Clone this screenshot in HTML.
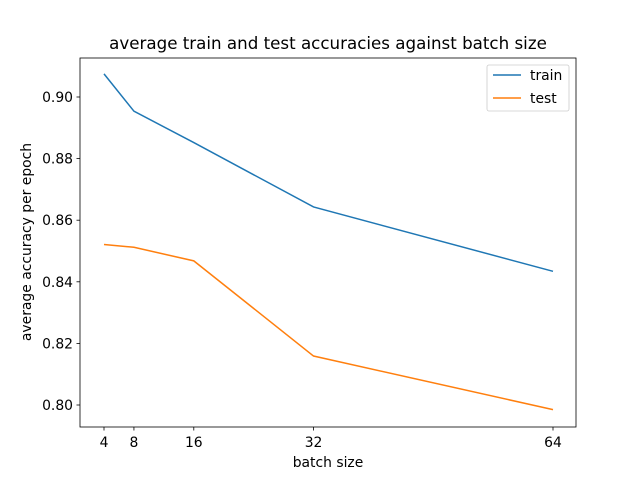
<!DOCTYPE html>
<html><head><meta charset="utf-8"><style>
body{margin:0;background:#fff;}
svg{display:block;font-family:"DejaVu Sans","Liberation Sans",sans-serif;}
</style></head><body>
<svg id="c" width="640" height="480">
<rect x="0" y="0" width="640" height="480" fill="#fff"/>
</svg>
<script>
const batchSizes=[4,8,16,32,64];
const trainAcc=[0.9075,0.8954,0.8852,0.8643,0.8434];
const testAcc=[0.8521,0.8512,0.8468,0.8159,0.7985];
const yTicks=[0.80,0.82,0.84,0.86,0.88,0.90];
const yTickLabels=["0.80","0.82","0.84","0.86","0.88","0.90"];
const xTickLabels=["4","8","16","32","64"];
const NS="http://www.w3.org/2000/svg";
const svg=document.getElementById('c');
const L=80,R=576,T=58,B=427;
function xs(v){return 104+(v-4)*(553-104)/60;}
function ys(v){return 405-(v-0.80)*(405-97)/0.10;}
function el(t,a,txt){const e=document.createElementNS(NS,t);for(const k in a)e.setAttribute(k,a[k]);if(txt!==undefined)e.textContent=txt;svg.appendChild(e);return e;}
function line(vals,color,name){
  const p=el('polyline',{points:batchSizes.map((b,i)=>xs(b)+','+ys(vals[i])).join(' '),fill:'none',stroke:color,'stroke-width':1.5});
  
  
}
line(trainAcc,'#1f77b4','train-line');
line(testAcc,'#ff7f0e','test-line');
const f=el('rect',{x:L,y:T,width:R-L,height:B-T,fill:'none',stroke:'#000','stroke-width':0.8});


batchSizes.forEach((b,i)=>{
  const x=xs(b);
  el('line',{x1:x,x2:x,y1:B,y2:B+3.5,stroke:'#000','stroke-width':0.8});
  const t=el('text',{x:x,y:B+20,'text-anchor':'middle','font-size':13.9},xTickLabels[i]);
  
  
});
yTicks.forEach((v,i)=>{
  const y=ys(v);
  el('line',{x1:L-3.5,x2:L,y1:y,y2:y,stroke:'#000','stroke-width':0.8});
  const t=el('text',{x:L-7,y:y+5,'text-anchor':'end','font-size':13.9},yTickLabels[i]);
  
  
});
let t=el('text',{x:328,y:467,'text-anchor':'middle','font-size':13.9},'batch size');


t=el('text',{x:0,y:0,'text-anchor':'middle','font-size':13.9,transform:'translate(31,242) rotate(-90)'},'average accuracy per epoch');


t=el('text',{x:328,y:49,'text-anchor':'middle','font-size':16.7},'average train and test accuracies against batch size');


const lg=el('rect',{x:487,y:65,width:82,height:46,rx:2,fill:'#fff',stroke:'#ccc','stroke-width':0.8});


[['train','#1f77b4',75],['test','#ff7f0e',98]].forEach(([n,c,y])=>{
  el('line',{x1:493,x2:521,y1:y,y2:y,stroke:c,'stroke-width':1.5});
  const e=el('text',{x:530,y:y+5,'font-size':13.9},n);
  
  
});
</script>
</body></html>
